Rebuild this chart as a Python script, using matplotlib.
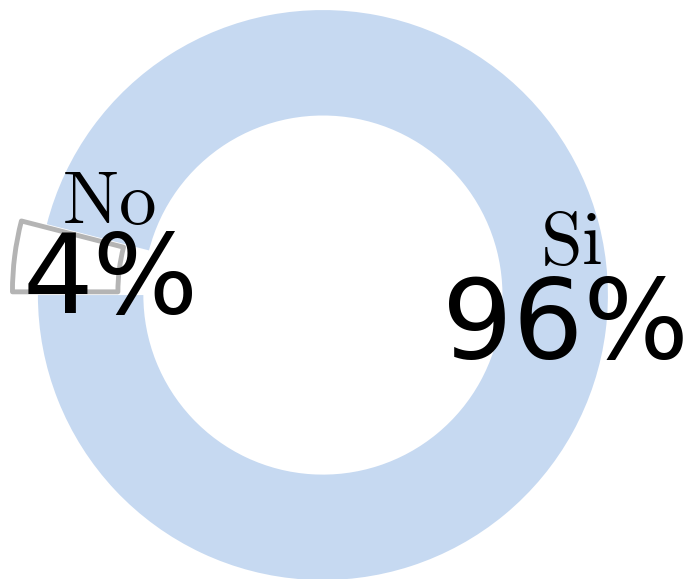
import matplotlib
matplotlib.use('Agg')
import matplotlib.pyplot as plt
import numpy as np

plt.rcParams['mathtext.fontset'] = 'cm'

labels = ['No', 'Si']
values = [4, 96]
pct_labels = ['4%', '96%']
colors = ['white', '#c6d9f1']

fig = plt.figure(figsize=(6.84, 5.79), dpi=100)
ax = fig.add_axes([0, 0, 1, 1])

wedges, _ = ax.pie(values, startangle=180, counterclock=False, explode=[0.09, 0],
                   colors=colors, radius=1.0,
                   wedgeprops=dict(width=0.37, linewidth=0))
# "No" slice has a gray outline
wedges[0].set_edgecolor('#b4b4b4')
wedges[0].set_linewidth(3.5)
wedges[0].set_joinstyle('round')

# label positions (data units)
lab_pos = [(-0.75, 0.32), (0.87, 0.18)]
pct_pos = [(-0.745, 0.045), (0.85, -0.115)]
for lab, pct, lp, pp in zip(labels, pct_labels, lab_pos, pct_pos):
    ax.text(lp[0], lp[1], r'$\mathrm{%s}$' % lab, fontsize=54, ha='center', va='center')
    ax.text(pp[0], pp[1], pct, fontsize=80, ha='center', va='center')

ax.set_xlim(-1.133, 1.267)
ax.set_ylim(-0.996, 1.035)
ax.set_aspect('equal')
ax.axis('off')

fig.savefig('out.png', dpi=100)
